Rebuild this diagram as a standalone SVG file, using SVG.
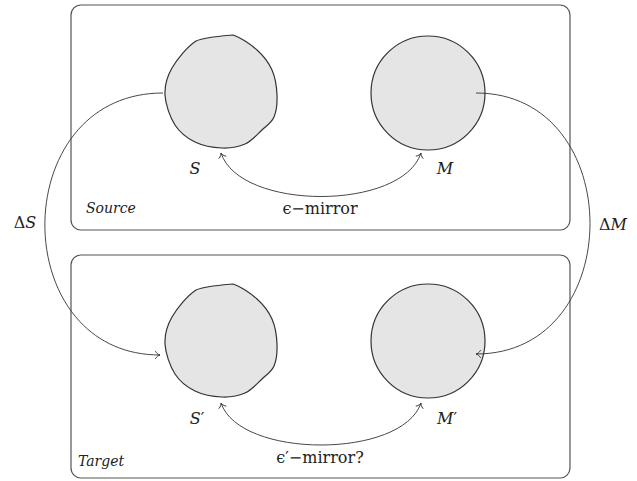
<svg xmlns="http://www.w3.org/2000/svg" width="637" height="481" viewBox="0 0 637 481">
  <style>
    .frame { fill: none; stroke: #555; stroke-width: 1.2; }
    .shape { fill: #e5e5e5; stroke: #333; stroke-width: 1.2; }
    .edge { fill: none; stroke: #333; stroke-width: 0.9; }
    text { font-family: 'DejaVu Serif', 'Liberation Serif', serif; font-size: 16px; fill: #222; }
    .it { font-style: italic; }
    .up { font-style: normal; }
    .tag { font-size: 14px; font-style: italic; }
  </style>
  <defs>
    <marker id="tip" viewBox="-6 -5 8 10" markerWidth="8" markerHeight="10" refX="0" refY="0" orient="auto-start-reverse" markerUnits="userSpaceOnUse">
      <path d="M-4.5,-3.6 C-3.2,-1.2 -1.2,-0.3 0,0 C-1.2,0.3 -3.2,1.2 -4.5,3.6" fill="none" stroke="#333" stroke-width="0.9" stroke-linecap="round"/>
    </marker>
    <!-- irregular outline for the S sets -->
    <path id="blob" d="M-25,-51 C-16,-55 0,-56 12,-57 C18.7,-55 29.5,-47.8 36,-42 C42.5,-36.2 47.7,-29.5 51,-22 C54.3,-14.5 55.7,-4.8 56,3 C56.3,10.8 55.5,19.2 53,25 C50.5,30.8 45.8,33.5 41,38 C36.2,42.5 30.7,49 24,52 C17.3,55 9.3,56.3 1,56 C-7.3,55.7 -18.2,53.8 -26,50 C-33.8,46.2 -41,40.8 -46,33 C-51,25.2 -55.5,12.5 -56,3 C-56.5,-6.5 -54.2,-15 -49,-24 C-43.8,-33 -34,-45 -25,-51 Z"/>
  </defs>

  <!-- domain frames -->
  <g id="source">
    <rect class="frame" x="71" y="5" width="499" height="225" rx="10"/>
    <text class="tag" x="86" y="213">Source</text>
  </g>
  <g id="target">
    <rect class="frame" x="71" y="255" width="499" height="223" rx="10"/>
    <text class="tag" x="78" y="466">Target</text>
  </g>

  <!-- nodes -->
  <g id="S">
    <use href="#blob" class="shape" transform="translate(221,92)"/>
    <text class="it" x="195" y="174" text-anchor="middle">S</text>
  </g>
  <g id="M">
    <circle class="shape" cx="428" cy="93" r="57"/>
    <text class="it" x="445" y="174" text-anchor="middle">M</text>
  </g>
  <g id="S-prime">
    <use href="#blob" class="shape" transform="translate(221,341)"/>
    <text class="it" x="197" y="424" text-anchor="middle">S<tspan class="up">′</tspan></text>
  </g>
  <g id="M-prime">
    <circle class="shape" cx="428" cy="341" r="57"/>
    <text class="it" x="447" y="424" text-anchor="middle">M<tspan class="up">′</tspan></text>
  </g>

  <!-- connectors -->
  <g id="edges">
    <path class="edge" d="M221,153 C240,211 402,211 421,153" marker-start="url(#tip)" marker-end="url(#tip)"/>
    <path class="edge" d="M221,403 C240,459 402,459 421,403" marker-start="url(#tip)" marker-end="url(#tip)"/>
    <path class="edge" d="M163,93 C6,93 6,355 160,355" marker-end="url(#tip)"/>
    <path class="edge" d="M476,93 C628,93 628,354 476,354" marker-end="url(#tip)"/>
    <text x="320" y="214" text-anchor="middle">ϵ−mirror</text>
    <text x="320" y="463" text-anchor="middle">ϵ′−mirror?</text>
    <text x="25" y="228" text-anchor="middle">Δ<tspan class="it">S</tspan></text>
    <text x="613" y="230" text-anchor="middle">Δ<tspan class="it">M</tspan></text>
  </g>
</svg>
